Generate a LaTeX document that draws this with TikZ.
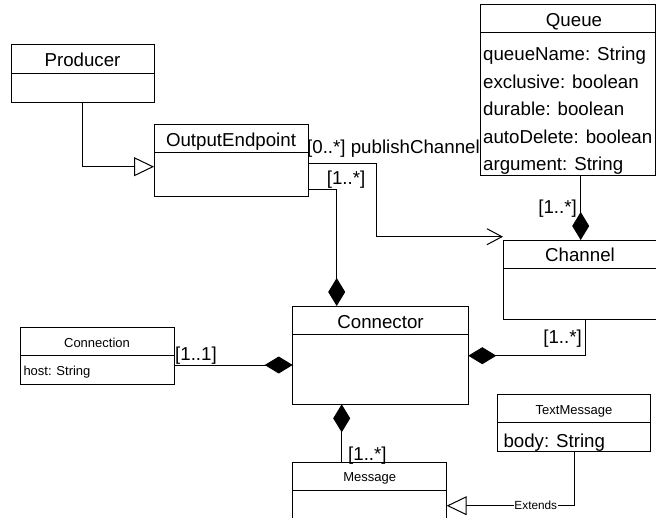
\documentclass[tikz,border=0pt]{standalone}
\usepackage{fontspec}
\setmainfont{Liberation Sans}
\usetikzlibrary{arrows.meta,backgrounds}
\begin{document}
\begin{tikzpicture}[x=1pt,y=-1pt,
 box/.style={draw, fill=white, line width=1pt, anchor=north west, inner sep=0pt, outer sep=0pt},
 big/.style={font=\fontsize{18.7}{20}\selectfont, inner sep=0pt},
 small/.style={font=\fontsize{13}{15}\selectfont, inner sep=0pt},
 conn/.style={line width=1pt},
 inh/.style={conn, -{Triangle[open, length=20pt, width=19pt, fill=white]}},
 comp/.style={conn, -{Diamond[length=28pt, width=17pt]}},
 navi/.style={conn, -{Straight Barb[length=15pt, width=16pt]}},
]
\useasboundingbox (0,0) rectangle (656,517);
\clip (0,0) rectangle (656,517);

% Producer
\node[box, minimum width=143pt, minimum height=58pt] (prod) at (11,44) {};
\draw[conn] ([yshift=-29.3pt]prod.north west) -- ([yshift=-29.3pt]prod.north east);
\node[big, anchor=base] (prodT) at (82.5,66.5) {Producer};

% OutputEndpoint
\node[box, minimum width=154.3pt, minimum height=72.7pt] (oe) at (154,124) {};
\draw[conn] ([yshift=-28.7pt]oe.north west) -- ([yshift=-28.7pt]oe.north east);
\node[big, anchor=base] (oeT) at (231,146) {OutputEndpoint};

% Queue
\node[box, minimum width=175pt, minimum height=171.7pt] (queue) at (480,4) {};
\draw[conn] ([yshift=-28.7pt]queue.north west) -- ([yshift=-28.7pt]queue.north east);
\node[big, anchor=base] (queueT) at (574,26.7) {Queue};
\node[big, anchor=base west] (qa1) at (483,60.5) {queueName: String};
\node[big, anchor=base west] (qa2) at (483,88) {exclusive: boolean};
\node[big, anchor=base west] (qa3) at (483,115.5) {durable: boolean};
\node[big, anchor=base west] (qa4) at (483,143) {autoDelete: boolean};
\node[big, anchor=base west] (qa5) at (483,170.5) {argument: String};

% Channel
\node[box, minimum width=160pt, minimum height=79.3pt] (channel) at (503,240) {};
\draw[conn] ([yshift=-28pt]channel.north west) -- ([yshift=-28pt]channel.north east);
\node[big, anchor=base] (channelT) at (580,261.7) {Channel};

% Connector
\node[box, minimum width=175.6pt, minimum height=98.3pt] (connector) at (292.7,306) {};
\draw[conn] ([yshift=-28.3pt]connector.north west) -- ([yshift=-28.3pt]connector.north east);
\node[big, anchor=base] (connectorT) at (380.5,328.3) {Connector};

% Connection
\node[box, minimum width=154pt, minimum height=56.6pt] (connection) at (20,327.7) {};
\draw[conn] ([yshift=-28pt]connection.north west) -- ([yshift=-28pt]connection.north east);
\node[small, anchor=base] (connectionT) at (97,347.7) {Connection};
\node[small, anchor=base west] (ca1) at (23.3,375) {host: String};

% Message
\node[box, minimum width=154pt, minimum height=70pt] (message) at (292.7,462.3) {};
\draw[conn] ([yshift=-27.7pt]message.north west) -- ([yshift=-27.7pt]message.north east);
\node[small, anchor=base] (messageT) at (369.7,481.7) {Message};

% TextMessage
\node[box, minimum width=153.4pt, minimum height=56.7pt] (textmsg) at (497.3,394.3) {};
\draw[conn] ([yshift=-28.4pt]textmsg.north west) -- ([yshift=-28.4pt]textmsg.north east);
\node[small, anchor=base] (textmsgT) at (574,414.3) {TextMessage};
\node[big, anchor=base west] (ta1) at (503.3,447.7) {body: String};

% multiplicity labels
\node[big, anchor=base west] (l1) at (307,153) {[0..*] publishChannel};
\node[big, anchor=base west] (l2) at (326.7,184) {[1..*]};
\node[big, anchor=base east] (l3) at (577,213) {[1..*]};
\node[big, anchor=base east] (l4) at (582,343.3) {[1..*]};
\node[big, anchor=base west] (l5) at (175,360) {[1..1]};
\node[big, anchor=base west] (l6) at (348,460) {[1..*]};

\begin{scope}[on background layer]
\draw[inh] (prod.south) |- (oe.west |- 0,166.7);
\draw[navi] (oe.east |- 0,163.3) -| (376.7,236.7) -- (channel.west |- 0,236.7);
\draw[comp] (oe.east |- 0,189) -| (connector.north -| 336.7,0);
\draw[comp] (queue.south -| 580.7,0) -- (channel.north -| 580.7,0);
\draw[comp] (channel.south -| 585,0) |- (connector.east |- 0,355.7);
\draw[comp] (connection.east |- 0,365) -- (connector.west |- 0,365);
\draw[comp] (message.north -| 341.7,0) -- (connector.south -| 341.7,0);
\draw[inh] (textmsg.south -| 574,0) |- (message.east |- 0,505.7)
  node[pos=0.65, fill=white, inner sep=0.5pt, font=\fontsize{11.8}{13}\selectfont] (ext) {Extends};
\end{scope}
\end{tikzpicture}
\end{document}
